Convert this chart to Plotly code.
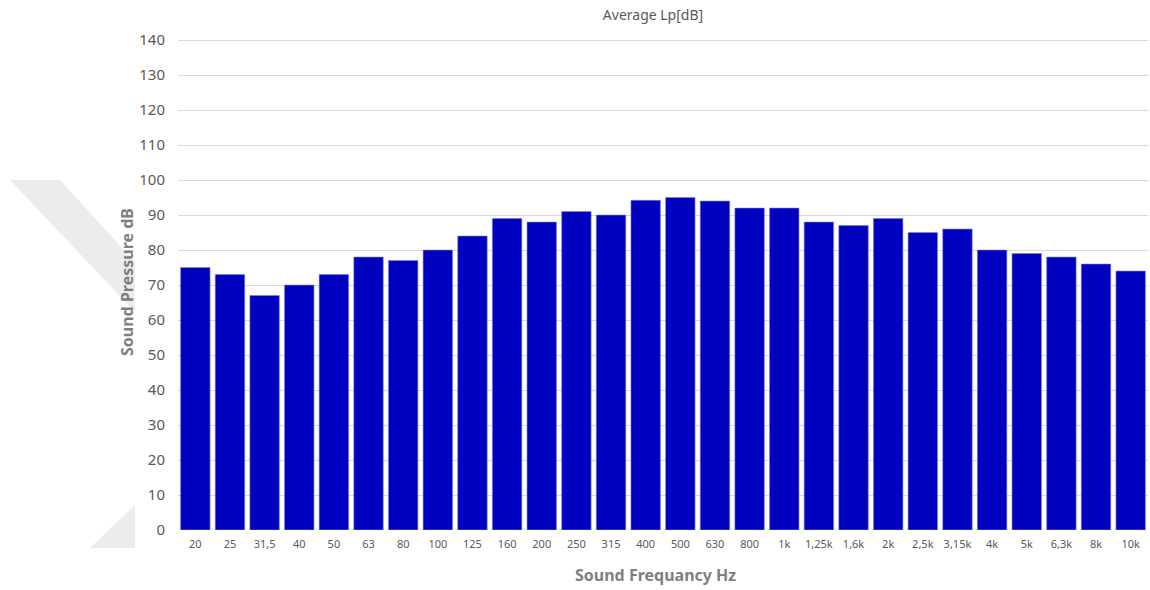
import plotly.graph_objects as go

frequencies = ["20", "25", "31,5", "40", "50", "63", "80", "100", "125", "160",
               "200", "250", "315", "400", "500", "630", "800", "1k", "1,25k", "1,6k",
               "2k", "2,5k", "3,15k", "4k", "5k", "6,3k", "8k", "10k"]
lp_values = [75, 73, 67, 70, 73, 78, 77, 80, 84, 89,
             88, 91, 90, 94.2, 95, 94, 92, 92, 88, 87,
             89, 85, 86, 80, 79, 78, 76, 74]
y_ticks = list(range(0, 141, 10))

FONT = "Noto Sans"
W, H = 1150, 590
L, R, T, B = 178, 2, 38, 60

fig = go.Figure()
fig.add_trace(go.Bar(
    x=frequencies, y=lp_values,
    marker=dict(color="#0000BF", line=dict(width=0.6, color="#8080e0")),
    hoverinfo="x+y",
))

# light watermark decoration at the far left (outside the white chart panel)
def px(x):
    return (x - L) / (W - L - R)

def py(y):
    return (H - B - y) / (H - T - B)

wm = "#ececec"
fig.add_shape(type="path", xref="paper", yref="paper", layer="below",
              path=f"M {px(10)} {py(180)} L {px(60)} {py(180)} L {px(135)} {py(262)} L {px(135)} {py(312)} Z",
              fillcolor=wm, line=dict(width=0))
fig.add_shape(type="path", xref="paper", yref="paper", layer="below",
              path=f"M {px(90)} {py(548)} L {px(135)} {py(505)} L {px(135)} {py(548)} Z",
              fillcolor=wm, line=dict(width=0))

fig.update_layout(
    width=W, height=H,
    margin=dict(l=L, r=R, t=T, b=B),
    paper_bgcolor="white", plot_bgcolor="rgba(0,0,0,0)",
    bargap=0.15,
    showlegend=False,
    font=dict(family=FONT, color="#595959"),
    title=dict(text="Average Lp[dB]", x=653 / W, xanchor="center", y=1 - 15 / H, yanchor="middle",
               font=dict(size=14, color="#595959", family=FONT)),
    xaxis=dict(
        type="category", showgrid=False, zeroline=False, showline=False,
        ticks="", tickfont=dict(size=11, color="#595959"),
        ticklabelstandoff=6,
    ),
    yaxis=dict(
        range=[0, 140.6], tickvals=y_ticks, showgrid=True, gridcolor="#d9d9d9", gridwidth=1,
        zeroline=False, showline=False, ticks="",
        tickfont=dict(size=15, color="#595959"), ticklabelstandoff=12,
    ),
    annotations=[
        dict(text="<b>Sound Frequancy Hz</b>", xref="paper", yref="paper",
             x=px(655), y=py(575), xanchor="center", yanchor="middle", showarrow=False,
             font=dict(size=16, color="#7f7f7f", family=FONT)),
        dict(text="<b>Sound Pressure dB</b>", xref="paper", yref="paper",
             x=px(127), y=py(282), xanchor="center", yanchor="middle", showarrow=False,
             textangle=-90, font=dict(size=16, color="#7f7f7f", family=FONT)),
    ],
)

fig.write_html("out.html", config={"displayModeBar": False},
               post_script="document.body.style.margin='0';document.body.style.overflow='hidden';")
